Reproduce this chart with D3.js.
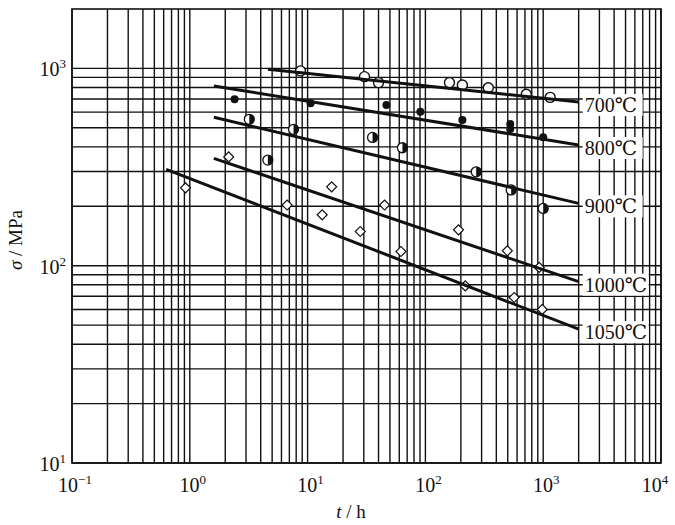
<!DOCTYPE html>
<html>
<head>
<meta charset="utf-8">
<script src="https://cdn.jsdelivr.net/npm/d3@7"></script>
<style>
  body { margin: 0; background: #fff; }
  text { font-family: "Liberation Serif", "DejaVu Serif", serif; fill: #111; }
</style>
</head>
<body>
<div id="chart"></div>
<script>
// creep rupture data, t in hours, sigma in MPa

const temps = ["700℃", "800℃", "900℃", "1000℃", "1050℃"];

// fitted lines: [t start, sigma start, t end, sigma end]
const fit700 = [4.6, 990, 2000, 675];
const fit800 = [1.6, 815, 2000, 409];
const fit900 = [1.6, 565, 2000, 207];
const fit1000 = [1.6, 350, 2000, 83];
const fit1050 = [0.63, 308, 2000, 47.7];

// measured points
const t700 = [8.7, 30.4, 40, 160, 206, 342, 718, 1146];
const s700 = [971, 908, 847, 847, 824, 798, 739, 713];

const t800 = [2.4, 10.6, 46.7, 90.7, 206, 525, 525, 1000];
const s800 = [697, 665, 652, 603, 547, 523, 493, 448];

const t900 = [3.2, 4.6, 7.6, 35.6, 63.8, 270, 535, 1000];
const s900 = [552, 343, 491, 447, 396, 299, 242, 195];

const t1000 = [2.14, 16, 45, 191, 496, 925];
const s1000 = [356, 251, 203, 152, 119, 98];

const t1050 = [0.92, 6.7, 13.3, 28, 62, 218, 567, 982];
const s1050 = [248, 203, 181, 149, 118, 79, 69, 60];

const xDecades = [0.1, 1, 10, 100, 1000, 10000];
const xExp = ["−1", "0", "1", "2", "3", "4"];
const yDecades = [10, 100, 1000];
const yExp = ["1", "2", "3"];

const width = 675, height = 525;
const margin = {top: 9, right: 14, bottom: 62, left: 72};

const svg = d3.select("#chart")
  .append("svg")
  .attr("width", width)
  .attr("height", height);

const x = d3.scaleLog()
  .domain([0.1, 10000])
  .range([margin.left, width - margin.right]);

const y = d3.scaleLog()
  .domain([10, 2000])
  .range([height - margin.bottom, margin.top]);

// grid
const grid = svg.append("g")
  .attr("stroke", "#111")
  .attr("stroke-width", 1.4);

grid.selectAll(".vx")
  .data(x.ticks())
  .enter()
  .append("line")
    .attr("x1", d => x(d)).attr("x2", d => x(d))
    .attr("y1", y(2000)).attr("y2", y(10));

grid.selectAll(".hy")
  .data(y.ticks().filter(d => d <= 1000))
  .enter()
  .append("line")
    .attr("y1", d => y(d)).attr("y2", d => y(d))
    .attr("x1", x(0.1)).attr("x2", x(10000));

svg.append("rect")
  .attr("x", x(0.1)).attr("y", y(2000))
  .attr("width", x(10000) - x(0.1))
  .attr("height", y(10) - y(2000))
  .attr("fill", "none")
  .attr("stroke", "#111")
  .attr("stroke-width", 1.6);

// tick labels
const xl = svg.selectAll(".xl")
  .data(xDecades)
  .enter()
  .append("text")
    .attr("x", (d, i) => i == xDecades.length - 1 ? x(d) - 6 : x(d) + 3)
    .attr("y", y(10) + 29)
    .attr("text-anchor", "middle")
    .attr("font-size", 20);
xl.append("tspan").text("10");
xl.append("tspan")
  .attr("dy", -8)
  .attr("font-size", 13)
  .text((d, i) => xExp[i]);

const yl = svg.selectAll(".yl")
  .data(yDecades)
  .enter()
  .append("text")
    .attr("x", margin.left - 6)
    .attr("y", d => y(d) + 8)
    .attr("text-anchor", "end")
    .attr("font-size", 20);
yl.append("tspan").text("10");
yl.append("tspan")
  .attr("dy", -8)
  .attr("font-size", 13)
  .text((d, i) => yExp[i]);

// axis titles
const xt = svg.append("text")
  .attr("x", 351)
  .attr("y", 518)
  .attr("text-anchor", "middle")
  .attr("font-size", 19);
xt.append("tspan").attr("font-style", "italic").text("t");
xt.append("tspan").text(" / h");

const yt = svg.append("text")
  .attr("transform", "translate(22,240) rotate(-90)")
  .attr("text-anchor", "middle")
  .attr("font-size", 19);
yt.append("tspan").attr("font-style", "italic").text("σ");
yt.append("tspan").text(" / MPa");

// markers
const pts = (ts, ss) => ts.map((t, i) => ({t: t, s: ss[i]}));

svg.selectAll(".c700")
  .data(pts(t700, s700))
  .enter()
  .append("circle")
    .attr("cx", d => x(d.t)).attr("cy", d => y(d.s))
    .attr("r", 5)
    .attr("fill", "#fff")
    .attr("stroke", "#111")
    .attr("stroke-width", 1.4);

svg.selectAll(".c800")
  .data(pts(t800, s800))
  .enter()
  .append("circle")
    .attr("cx", d => x(d.t)).attr("cy", d => y(d.s))
    .attr("r", 4)
    .attr("fill", "#111");

const half = svg.selectAll(".c900")
  .data(pts(t900, s900))
  .enter()
  .append("g")
    .attr("transform", d => `translate(${x(d.t)},${y(d.s)})`);
half.append("circle")
  .attr("r", 5)
  .attr("fill", "#fff")
  .attr("stroke", "#111")
  .attr("stroke-width", 1.3);
half.append("path")
  .attr("d", d3.arc()({innerRadius: 0, outerRadius: 5, startAngle: 0, endAngle: Math.PI}))
  .attr("fill", "#111");

const diamond = d3.symbol().type(d3.symbolSquare).size(50);

svg.selectAll(".d1000")
  .data(pts(t1000, s1000).concat(pts(t1050, s1050)))
  .enter()
  .append("path")
    .attr("d", diamond)
    .attr("transform", d => `translate(${x(d.t)},${y(d.s)}) rotate(45)`)
    .attr("fill", "#fff")
    .attr("stroke", "#111")
    .attr("stroke-width", 1.2);

// fitted lines
const fits = [fit700, fit800, fit900, fit1000, fit1050];

svg.selectAll(".fit")
  .data(fits)
  .enter()
  .append("line")
    .attr("x1", d => x(d[0])).attr("y1", d => y(d[1]))
    .attr("x2", d => x(d[2])).attr("y2", d => y(d[3]))
    .attr("stroke", "#111")
    .attr("stroke-width", 3);

// temperature labels with white boxes
const lab = svg.selectAll(".lab")
  .data(fits)
  .enter()
  .append("g")
    .attr("transform", d => `translate(${x(d[2]) + 4},${y(d[3]) + 3})`);
lab.append("rect")
  .attr("x", 0).attr("y", -11)
  .attr("width", (d, i) => i < 3 ? 60 : 66)
  .attr("height", 22)
  .attr("fill", "#fff");
lab.append("text")
  .attr("x", 2)
  .attr("y", 7)
  .attr("font-size", 20)
  .text((d, i) => temps[i]);
</script>
</body>
</html>
